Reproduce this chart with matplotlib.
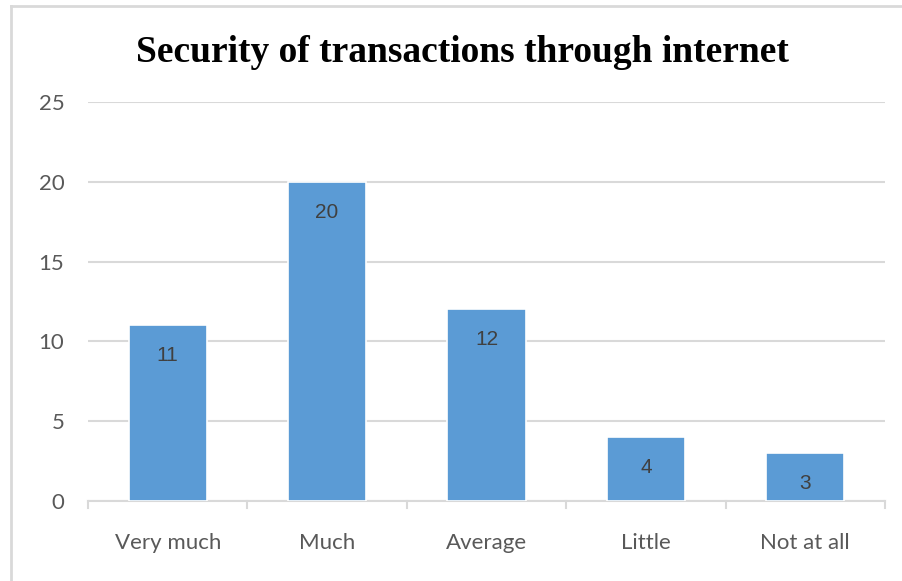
import matplotlib
matplotlib.use("Agg")
import matplotlib.pyplot as plt
from matplotlib.lines import Line2D
import numpy as np

categories = ["Very much", "Much", "Average", "Little", "Not at all"]
values = [11, 20, 12, 4, 3]
yticks = [0, 5, 10, 15, 20, 25]

fig = plt.figure(figsize=(9.02, 5.81), dpi=100)
ax = fig.add_axes([88 / 902, 1 - 501 / 581, (885 - 88) / 902, (501 - 102) / 581])

x = np.arange(len(categories))
bars = ax.bar(x, values, width=0.49, color="#5B9BD5", edgecolor="white",
              linewidth=1.2, zorder=3)

ax.set_xlim(-0.5, len(categories) - 0.5)
ax.set_ylim(0, 25)
ax.set_yticks(yticks)
ax.set_yticklabels([str(t) for t in yticks], family="Lato", fontsize=16,
                   color="#595959")
ax.set_xticks(x)
ax.set_xticklabels(categories, family="Lato", fontsize=16, color="#595959")
ax.tick_params(axis="y", length=0, pad=17)
ax.tick_params(axis="x", length=0, pad=23)
ax.grid(axis="y", color="#D9D9D9", linewidth=1.5, zorder=0)
for s in ["top", "right", "left"]:
    ax.spines[s].set_visible(False)
ax.spines["bottom"].set_color("#D9D9D9")
ax.spines["bottom"].set_linewidth(1.5)

# category separators below the baseline
for b in np.arange(-0.5, len(categories), 1.0):
    ax.plot([b, b], [0, -0.45], color="#D9D9D9", linewidth=1.5,
            clip_on=False, zorder=2)

for rect, v in zip(bars, values):
    ax.text(rect.get_x() + rect.get_width() / 2, v - 1.9, str(v),
            ha="center", va="center", family="Liberation Sans", fontsize=15,
            color="#404040", zorder=4)

fig.text(462 / 902, 1 - 52 / 581, "Security of transactions through internet",
         ha="center", va="center", family="Liberation Serif",
         fontweight="bold", fontsize=27, color="black")

# outer chart frame
fig.add_artist(Line2D([11 / 902, 11 / 902], [0, 1 - 6 / 581],
                      transform=fig.transFigure, color="#D9D9D9", linewidth=2))
fig.add_artist(Line2D([11 / 902, 1], [1 - 6 / 581, 1 - 6 / 581],
                      transform=fig.transFigure, color="#D9D9D9", linewidth=2))

fig.savefig("out.png", dpi=100)
